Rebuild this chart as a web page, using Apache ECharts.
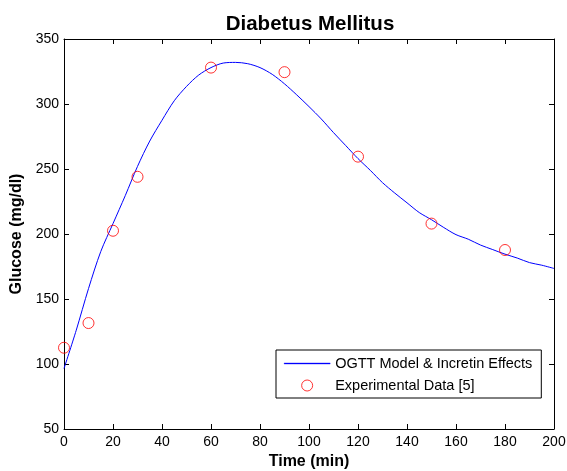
<!DOCTYPE html>
<html>
<head>
<meta charset="utf-8">
<script src="https://cdn.jsdelivr.net/npm/echarts@6/dist/echarts.min.js"></script>
<style>
html,body{margin:0;padding:0;background:#fff;}
#chart{width:567px;height:471px;}
</style>
</head>
<body>
<div id="chart"></div>
<script>
var modelTime = [0,5,10,15,20,25,30,35,40,45,50,55,60,65,70,75,80,85,90,95,100,105,110,115,120,125,130,135,140,145,150,155,160,165,170,175,180,185,190,195,200];
var modelGlucose = [96.5,126,158,186.5,208,229.5,252,271.5,287.5,302.5,313.5,322.3,328,331.5,332,331,328,322.8,315.5,307,298,288.5,278,268,258,249,239.5,231.5,224,216.5,211,205,199.5,196,191.5,188,184.5,181.5,178,176,173.5];
var expTime = [0,10,20,30,60,90,120,150,180];
var expGlucose = [112.5,131.5,202.5,244,328,324.5,259.5,208,187.7];
var xTicks = {min:0, max:200, step:20};
var yTicks = {min:50, max:350, step:50};
var seriesNames = ['OGTT Model & Incretin Effects','Experimental Data [5]'];
var titleText = 'Diabetus Mellitus';
var xName = 'Time (min)';
var yName = 'Glucose (mg/dl)';

var modelData = modelTime.map(function(t,i){return [t, modelGlucose[i]];});
var expData = expTime.map(function(t,i){return [t, expGlucose[i]];});

var font = 'Liberation Sans, Arial, Helvetica, sans-serif';
var chart = echarts.init(document.getElementById('chart'), null, {renderer:'canvas'});
function boxAxis(extra){
  return Object.assign({
    show:true,
    axisLine:{show:true, onZero:false, lineStyle:{color:'#000', width:1}},
    axisTick:{show:true, inside:true, length:5, lineStyle:{color:'#000', width:1}},
    splitLine:{show:false}
  }, extra);
}
chart.setOption({
  animation:false,
  backgroundColor:'#fff',
  title:{text:titleText, left:305, top:9, textAlign:'center',
    textStyle:{fontFamily:font, fontSize:20.5, fontWeight:'bold', color:'#000'}},
  grid:{left:64, right:13, top:39, bottom:42, containLabel:false, outerBoundsMode:'none'},
  legend:{
    orient:'vertical', left:276, top:350,
    backgroundColor:'#fff', borderColor:'#000', borderWidth:1, borderRadius:0,
    padding:[6,9,5,8], itemGap:7, itemWidth:46, itemHeight:11,
    textStyle:{fontFamily:font, fontSize:14.5, color:'#000'},
    data:[
      {name:seriesNames[0], icon:'path://M0,0H46V1.2H0Z', itemStyle:{color:'#0000ff', borderColor:'#0000ff', borderWidth:0.3}},
      {name:seriesNames[1], icon:'circle', itemStyle:{color:'rgba(0,0,0,0)', borderColor:'#ff0000', borderWidth:1}}
    ]
  },
  xAxis:[
    boxAxis({type:'value', position:'bottom', min:xTicks.min, max:xTicks.max, interval:xTicks.step,
      name:xName, nameLocation:'middle', nameGap:25,
      nameTextStyle:{fontFamily:font, fontSize:16, fontWeight:'bold', color:'#000'},
      axisLabel:{fontFamily:font, fontSize:14, color:'#000', margin:6}}),
    boxAxis({type:'value', position:'top', gridIndex:0, min:xTicks.min, max:xTicks.max, interval:xTicks.step,
      axisLabel:{show:false}})
  ],
  yAxis:[
    boxAxis({type:'value', position:'left', min:yTicks.min, max:yTicks.max, interval:yTicks.step,
      name:yName, nameLocation:'middle', nameGap:37, nameRotate:90,
      nameTextStyle:{fontFamily:font, fontSize:16, fontWeight:'bold', color:'#000'},
      axisLabel:{fontFamily:font, fontSize:14, color:'#000', margin:5}}),
    boxAxis({type:'value', position:'right', gridIndex:0, min:yTicks.min, max:yTicks.max, interval:yTicks.step,
      axisLabel:{show:false}})
  ],
  series:[
    {name:seriesNames[0], type:'line', data:modelData, smooth:0.3, symbol:'none',
      lineStyle:{color:'#0000ff', width:1}, itemStyle:{color:'#0000ff'}, xAxisIndex:0, yAxisIndex:0, z:2},
    {name:seriesNames[1], type:'scatter', data:expData, symbol:'circle', symbolSize:11,
      itemStyle:{color:'rgba(0,0,0,0)', borderColor:'#ff0000', borderWidth:1}, xAxisIndex:0, yAxisIndex:0, z:3},
    {name:'_box', type:'scatter', data:expData, xAxisIndex:1, yAxisIndex:1, silent:true, symbolSize:0, itemStyle:{opacity:0}}
  ]
});
</script>
</body>
</html>
